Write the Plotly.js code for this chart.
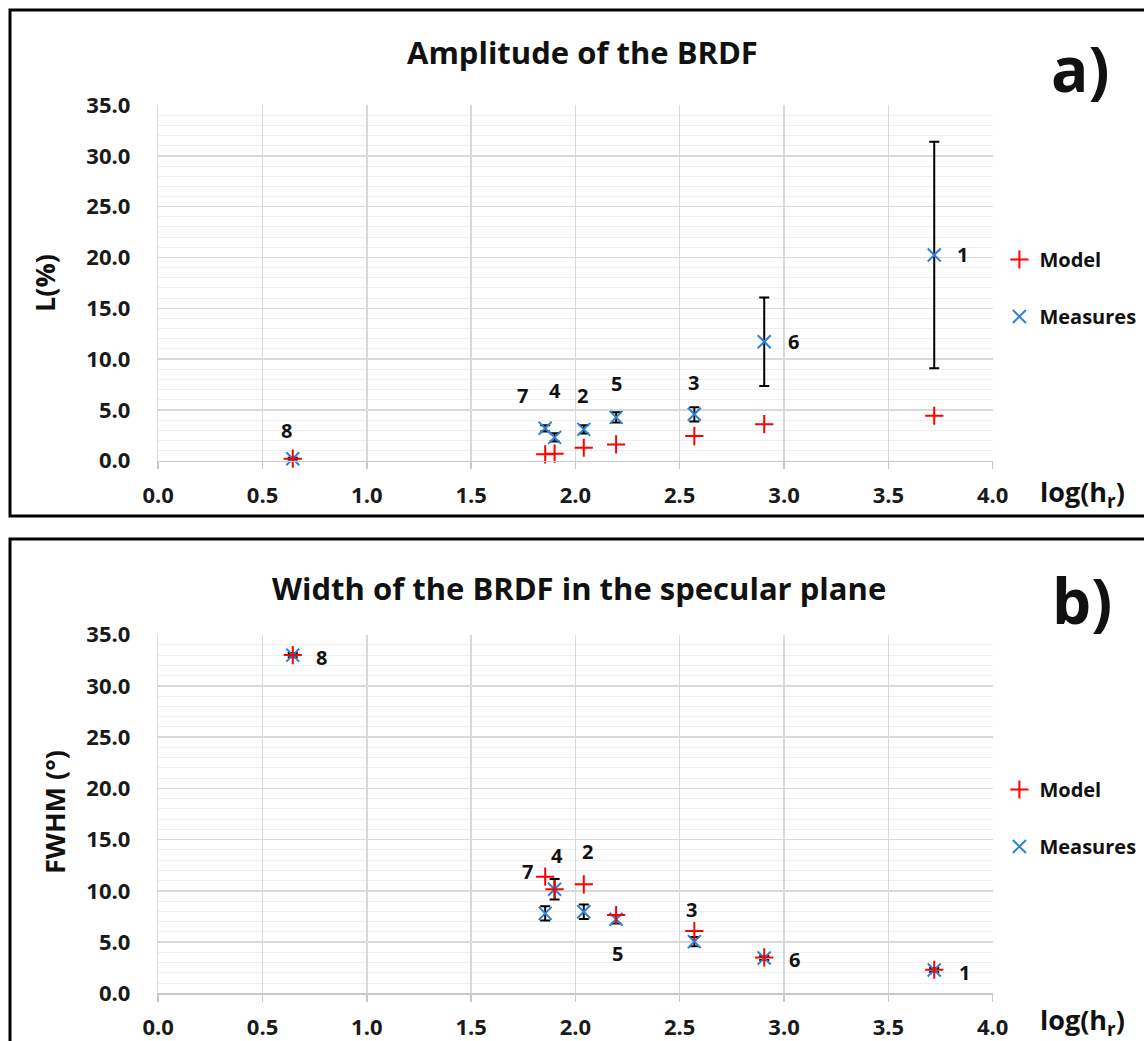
<!DOCTYPE html>
<html>
<head>
<meta charset="utf-8">
<script src="https://cdn.plot.ly/plotly-3.0.1.min.js"></script>
<style>
html,body{margin:0;padding:0;background:#fff;}
#chart{width:1144px;height:1041px;}
</style>
</head>
<body>
<div id="chart"></div>
<script>
// ---- data ----
const sampleLabels = ["1", "2", "3", "4", "5", "6", "7", "8"];
const logHr = [3.72, 2.04, 2.57, 1.90, 2.195, 2.905, 1.855, 0.645];

// a) Amplitude of the BRDF, L(%)
const amplitudeModel = [4.43, 1.28, 2.43, 0.70, 1.61, 3.60, 0.63, 0.20];
const amplitudeMeasures = [20.25, 3.09, 4.57, 2.30, 4.27, 11.71, 3.19, 0.20];
const amplitudeError = [11.15, 0.40, 0.70, 0.40, 0.50, 4.35, 0.30, 0.10];

// b) Width of the BRDF in the specular plane, FWHM (deg)
const widthModel = [2.30, 10.63, 6.08, 10.15, 7.64, 3.50, 11.38, 33.0];
const widthMeasures = [2.27, 7.96, 5.04, 10.15, 7.22, 3.45, 7.80, 33.0];
const widthError = [0.20, 0.70, 0.45, 1.00, 0.40, 0.20, 0.70, 0.20];

const yTickVals = [0, 5, 10, 15, 20, 25, 30, 35];
const xTickVals = [0, 0.5, 1, 1.5, 2, 2.5, 3, 3.5, 4];

// ---- label placement (pixel offsets from the measured point) ----
const labelOffsetsA = [[28, 0], [-1, 34], [-1, 32], [0, 47], [0, 34], [29, 0], [-23, 33], [-6, 28]];
const labelOffsetsB = [[30, -2], [4, 60], [-3, 32], [2, 34], [1, -34], [30, -2], [-18, 42], [29, -2]];

const FONT = "'Open Sans', 'Noto Sans', sans-serif";
const RED = "#ff0000";
const BLUE = "#2f80cf";

function measTrace(x, y, err, xa, ya, leg) {
  return {
    type: "scatter", mode: "markers", name: "Measures",
    x: x, y: y, xaxis: xa, yaxis: ya, legend: leg, legendgroup: leg + "meas", legendrank: 2,
    marker: {symbol: "x-thin-open", size: 13, color: BLUE, line: {color: BLUE, width: 2}},
    error_y: {type: "data", array: err, visible: true, color: "#000", thickness: 2, width: 5},
    cliponaxis: false, hoverinfo: "skip"
  };
}
function modelTrace(x, y, xa, ya, leg) {
  return {
    type: "scatter", mode: "markers", name: "Model",
    x: x, y: y, xaxis: xa, yaxis: ya, legend: leg, legendgroup: leg + "model", legendrank: 1,
    marker: {symbol: "cross-thin-open", size: 13, color: RED, line: {color: RED, width: 2}},
    cliponaxis: false, hoverinfo: "skip"
  };
}

const data = [
  measTrace(logHr, amplitudeMeasures, amplitudeError, "x", "y", "legend"),
  modelTrace(logHr, amplitudeModel, "x", "y", "legend"),
  measTrace(logHr, widthMeasures, widthError, "x2", "y2", "legend2"),
  modelTrace(logHr, widthModel, "x2", "y2", "legend2")
];

function xAxis(anchor) {
  return {
    domain: [0.1383, 0.8677], anchor: anchor, range: [0, 4], autorange: false,
    tickvals: xTickVals, ticktext: xTickVals.map(v => v.toFixed(1)),
    showgrid: true, gridcolor: "#d9d9d9", gridwidth: 1.5,
    showline: true, linecolor: "#c8c8c8", linewidth: 1.5, mirror: false,
    ticks: "outside", ticklen: 7, tickcolor: "#c8c8c8", tickwidth: 1.5,
    ticklabelstandoff: 7,
    zeroline: false, fixedrange: true,
    tickfont: {family: FONT, size: 22, color: "#1a1a1a", weight: "bold"}
  };
}
function yAxis(domain, anchor) {
  return {
    domain: domain, anchor: anchor, range: [0, 35], autorange: false,
    tickvals: yTickVals, ticktext: yTickVals.map(v => v.toFixed(1)),
    showgrid: true, gridcolor: "#d9d9d9", gridwidth: 1.5,
    minor: {dtick: 1, showgrid: true, gridcolor: "#efefef", gridwidth: 1, ticks: ""},
    showline: true, linecolor: "#d9d9d9", linewidth: 1.5,
    ticks: "", ticklabelstandoff: 22,
    zeroline: false, fixedrange: true,
    tickfont: {family: FONT, size: 22, color: "#1a1a1a", weight: "bold"}
  };
}

const annotations = [];
function addLabels(x, y, offsets, xref, yref) {
  sampleLabels.forEach((t, i) => {
    annotations.push({
      x: x[i], y: y[i], xref: xref, yref: yref, text: t, showarrow: false,
      xshift: offsets[i][0], yshift: offsets[i][1],
      font: {family: FONT, size: 20, color: "#111", weight: "bold"}
    });
  });
}
addLabels(logHr, amplitudeMeasures, labelOffsetsA, "x", "y");
addLabels(logHr, widthMeasures, labelOffsetsB, "x2", "y2");

function paperText(text, px, py, size, angle) {
  annotations.push({
    xref: "paper", yref: "paper", x: px / 1144, y: 1 - py / 1041,
    xanchor: "center", yanchor: "middle", text: text, showarrow: false,
    textangle: angle || 0,
    font: {family: FONT, size: size, color: "#111", weight: "bold"}
  });
}
paperText("Amplitude of the BRDF", 582, 52, 31);
paperText("Width of the BRDF in the specular plane", 579, 588, 31);
paperText("a)", 1080, 68, 62);
paperText("b)", 1082, 600, 62);
paperText("L(%)", 44, 283, 27, -90);
paperText("FWHM (°)", 54, 812, 27, -90);
paperText("log(h<sub>r</sub>)", 1082, 493, 27);
paperText("log(h<sub>r</sub>)", 1082, 1021, 27);

const legendBase = {
  font: {family: FONT, size: 20, color: "#111", weight: "bold"},
  bgcolor: "rgba(0,0,0,0)", borderwidth: 0,
  traceorder: "grouped", tracegroupgap: 28,
  xanchor: "left", yanchor: "top", itemclick: false, itemdoubleclick: false
};

const layout = {
  width: 1144, height: 1041,
  margin: {l: 0, r: 0, t: 0, b: 0, autoexpand: false},
  paper_bgcolor: "#fff", plot_bgcolor: "#fff",
  showlegend: true,
  xaxis: xAxis("y"),
  yaxis: yAxis([0.5574, 0.8991], "x"),
  xaxis2: xAxis("y2"),
  yaxis2: yAxis([0.0458, 0.3904], "x2"),
  legend: Object.assign({}, legendBase, {x: 0.8736, y: 1 - 240 / 1041}),
  legend2: Object.assign({}, legendBase, {x: 0.8736, y: 1 - 770 / 1041}),
  annotations: annotations,
  shapes: [
    {type: "rect", xref: "paper", yref: "paper", x0: 10 / 1144, x1: 1.02, y0: 1 - 516 / 1041, y1: 1 - 10 / 1041,
     line: {color: "#000", width: 3}, fillcolor: "rgba(0,0,0,0)", layer: "above"},
    {type: "rect", xref: "paper", yref: "paper", x0: 10 / 1144, x1: 1.02, y0: -0.05, y1: 1 - 539 / 1041,
     line: {color: "#000", width: 3}, fillcolor: "rgba(0,0,0,0)", layer: "above"}
  ]
};

Plotly.newPlot("chart", data, layout, {displayModeBar: false, staticPlot: true});
</script>
</body>
</html>
